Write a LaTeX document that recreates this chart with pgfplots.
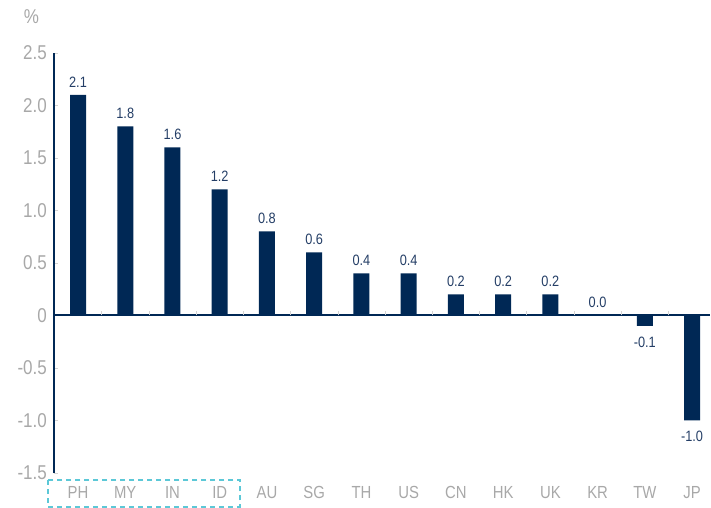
\documentclass[border=0pt]{standalone}
\usepackage{fontspec}
\setmainfont{Liberation Sans}[FakeStretch=0.85]
\usepackage{pgfplots}
\pgfplotsset{compat=1.18}
\definecolor{navy}{HTML}{002855}
\definecolor{lbl}{HTML}{A8A8A8}
\definecolor{val}{HTML}{243E66}
\definecolor{cyanbox}{HTML}{5CC8D7}
\begin{document}
\begin{tikzpicture}
\path[use as bounding box] (0,0) rectangle (711bp,508bp);
\begin{axis}[
  at={(54.4bp,35bp)}, anchor=south west,
  scale only axis, width=655.6bp, height=420bp,
  xmin=-0.5, xmax=13.38, ymin=-1.5, ymax=2.5,
  clip=false,
  axis x line=bottom, axis y line=left,
  axis line style={-},
  x axis line style={draw=none},
  y axis line style={draw=navy, line width=2bp},
  xtick={0,...,13},
  xticklabels={PH,MY,IN,ID,AU,SG,TH,US,CN,HK,UK,KR,TW,JP},
  x tick style={draw=none},
  major x tick style={draw=none},
  xticklabel style={text=lbl, font=\fontsize{17.5bp}{20bp}\selectfont, yshift=-6bp},
  ytick={-1.5,-1,-0.5,0,0.5,1,1.5,2,2.5},
  yticklabels={-1.5,-1.0,-0.5,0,0.5,1.0,1.5,2.0,2.5},
  y tick style={draw=lbl!50, line width=0.6bp},
  major tick length=4bp,
  tick align=inside,
  yticklabel style={text=lbl, font=\fontsize{20bp}{24bp}\selectfont, xshift=-4bp},
  ybar, bar width=16bp, bar shift=0pt,
  nodes near coords={\pgfmathprintnumber[fixed,fixed zerofill,precision=1,assume math mode=true]{\pgfplotspointmeta}},
  nodes near coords align={vertical},
  every node near coord/.append style={text=val, font=\fontsize{15bp}{18bp}\selectfont, inner ysep=9bp, yshift=-1.5bp},
]
\addplot[fill=navy, draw=none] coordinates {
  (0,2.1) (1,1.8) (2,1.6) (3,1.2) (4,0.8) (5,0.6) (6,0.4)
  (7,0.4) (8,0.2) (9,0.2) (10,0.2) (11,0.0) (12,-0.1) (13,-1.0)
};
\draw[navy, line width=2bp] (axis cs:-0.5,0) -- (axis cs:13.38,0);
\pgfplotsinvokeforeach{0.5,1.5,...,12.5}{
  \draw[lbl!50, line width=0.6bp] (axis cs:#1,0) -- ++(0pt,4bp);
}
\draw[cyanbox, line width=2bp, dash pattern=on 5bp off 4bp] (axis cs:-0.64,-1.567) rectangle (axis cs:3.43,-1.82);
\node[text=lbl, font=\fontsize{20bp}{24bp}\selectfont, xshift=-23bp, yshift=36bp] at (rel axis cs:0,1) {\%};
\end{axis}
\end{tikzpicture}
\end{document}
